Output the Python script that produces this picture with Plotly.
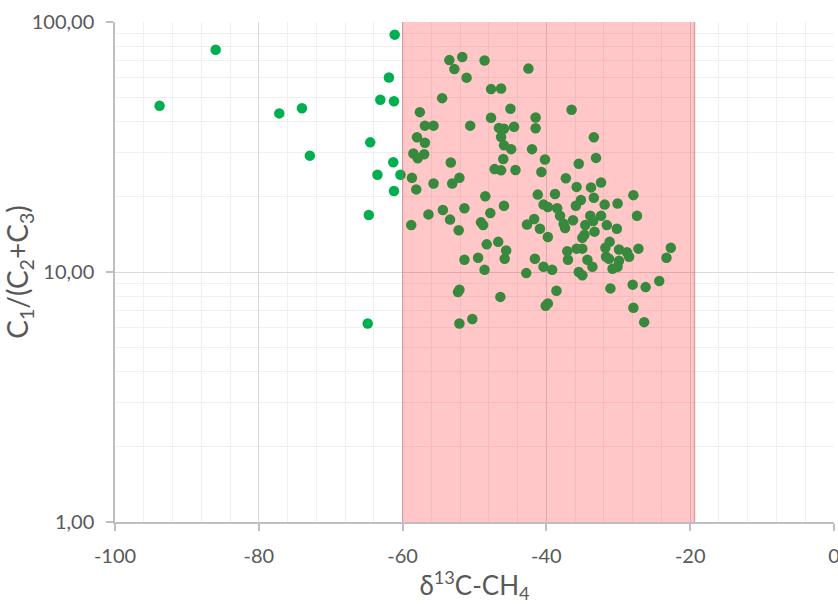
import plotly.graph_objects as go

# delta13C-CH4 (permil) and C1/(C2+C3) ratio
d13c = [
    -61.1, -86.0, -93.8, -77.15, -74.0, -61.9, -63.1, -61.2, -72.9, -64.5,
    -61.3, -63.5, -60.3, -61.2, -64.7, -64.85,
    -53.5, -51.7, -52.8, -48.6, -51.1, -42.5, -47.7, -46.3, -54.5, -57.6,
    -45.0, -47.7, -41.5, -56.9, -55.7, -50.6, -46.6, -45.9, -44.5, -41.5,
    -58.0, -46.3, -56.9, -45.9, -44.9, -42.0, -58.5, -57.0, -57.9, -53.3,
    -46.0, -40.2, -47.2, -46.3, -44.3, -40.7, -58.7, -52.1, -55.7, -53.1,
    -58.1,
    -48.5, -41.2, -38.8, -54.4, -51.4, -45.9, -40.4, -39.8, -38.5, -56.4,
    -47.8, -38.1, -58.8, -53.4, -49.1, -48.8, -52.2, -42.7, -41.7, -40.9,
    -39.8, -48.3, -46.7, -45.6, -45.8, -49.5, -51.4, -41.6, -40.4, -39.2,
    -48.6, -42.8, -38.6, -52.1, -52.3, -46.4, -39.8, -40.1, -50.3, -52.1,
    -36.5, -33.4, -33.1, -35.5, -37.3, -32.4, -35.8, -33.8, -27.9, -33.4,
    -35.2, -35.9, -31.9, -30.1, -33.9, -32.4, -27.4, -36.3, -33.5, -37.6,
    -37.4, -34.6, -31.6, -30.2, -33.3, -34.7, -35.0,
    -37.1, -37.0, -35.8, -35.0, -34.3, -33.6, -31.8, -31.2, -31.7, -31.3,
    -29.9, -28.8, -28.5, -29.9, -30.1, -30.8, -27.2, -35.5, -35.0, -22.7,
    -23.3, -24.3, -28.0, -26.2, -31.1, -27.9, -26.4,
]
c1_c2c3 = [
    89.0, 77.5, 46.2, 43.1, 45.2, 60.0, 48.9, 48.2, 29.2, 33.0,
    27.5, 24.5, 24.5, 21.1, 16.9, 6.22,
    70.4, 72.4, 64.8, 70.2, 59.9, 65.1, 53.9, 54.2, 49.6, 43.6,
    45.0, 41.4, 41.5, 38.5, 38.5, 38.5, 37.7, 37.4, 38.1, 37.6,
    34.6, 34.7, 32.9, 32.1, 31.0, 31.0, 29.8, 29.6, 28.5, 27.4,
    28.3, 28.2, 25.8, 25.5, 25.6, 25.1, 23.8, 23.8, 22.6, 22.6,
    21.4,
    20.1, 20.4, 20.5, 17.7, 18.0, 18.4, 18.6, 18.2, 18.0, 17.0,
    17.2, 16.8, 15.4, 16.2, 15.8, 15.4, 14.7, 15.5, 16.3, 14.9,
    13.8, 12.9, 13.2, 12.2, 11.3, 11.4, 11.2, 11.3, 10.5, 10.2,
    10.2, 9.9, 8.41, 8.49, 8.31, 7.95, 7.49, 7.32, 6.49, 6.22,
    44.6, 34.6, 28.6, 27.1, 23.7, 22.8, 21.9, 21.8, 20.3, 19.8,
    19.4, 18.4, 18.6, 18.8, 16.8, 16.8, 16.8, 16.1, 16.0, 15.6,
    15.0, 15.4, 15.4, 14.9, 14.5, 14.1, 13.7,
    12.1, 11.2, 12.4, 12.4, 11.2, 10.5, 12.5, 13.2, 11.5, 11.3,
    12.3, 12.0, 11.5, 11.1, 10.5, 10.3, 12.4, 10.0, 9.7, 12.5,
    11.4, 9.2, 8.9, 8.7, 8.6, 7.19, 6.30,
]

# shaded thermogenic window on the delta13C axis
region_x = [-60, -19.4]

x_ticks = [-100, -80, -60, -40, -20, 0]
x_tick_text = ["-100", "-80", "-60", "-40", "-20", "0"]
y_ticks = [1, 10, 100]
y_tick_text = ["1,00", "10,00", "100,00"]
y_minor = [m * d for d in (1, 10) for m in range(2, 10)]
x_minor = list(range(-100, 1, 4))

FONT = "Lato"
TXT = "#595959"
GRID = "#D9D9D9"
MINOR = "#F0F0F0"
AXIS = "#BFBFBF"

fig = go.Figure()
fig.add_trace(go.Scatter(
    x=d13c, y=c1_c2c3, mode="markers",
    marker=dict(size=10.5, color="#00B050", line=dict(width=0)),
    showlegend=False, hoverinfo="x+y",
))

fig.add_shape(type="rect", xref="x", yref="paper",
              x0=region_x[0], x1=region_x[1], y0=0, y1=1,
              fillcolor="rgba(255,0,0,0.22)", line=dict(width=0), layer="above")
fig.add_shape(type="line", xref="x", yref="paper",
              x0=region_x[1], x1=region_x[1], y0=0, y1=1,
              line=dict(color="rgba(190,110,110,0.55)", width=1.5), layer="above")
fig.add_shape(type="line", xref="x", yref="paper",
              x0=region_x[0], x1=region_x[0], y0=0, y1=1,
              line=dict(color="rgba(190,110,110,0.45)", width=1.2), layer="above")

fig.update_xaxes(
    range=[-100, 0], tickmode="array", tickvals=x_ticks, ticktext=x_tick_text,
    showgrid=True, gridcolor=GRID, gridwidth=1,
    minor=dict(tickmode="array", tickvals=x_minor, showgrid=True,
               gridcolor=MINOR, gridwidth=1, ticks=""),
    showline=True, linecolor=AXIS, linewidth=1.5,
    ticks="outside", ticklen=7, tickcolor=AXIS, tickwidth=1.5,
    tickfont=dict(family=FONT, size=20, color=TXT),
    ticklabelstandoff=8, ticklabeloverflow="allow",
    zeroline=False,
    title=dict(text="δ<sup>13</sup>C-CH<sub>4</sub>",
               font=dict(family=FONT, size=26, color=TXT), standoff=19),
)
fig.update_yaxes(
    type="log", range=[0, 2], tickmode="array", tickvals=y_ticks, ticktext=y_tick_text,
    showgrid=True, gridcolor=GRID, gridwidth=1,
    minor=dict(tickmode="array", tickvals=y_minor, showgrid=True,
               gridcolor=MINOR, gridwidth=1, ticks=""),
    showline=True, linecolor=AXIS, linewidth=1.5,
    ticks="outside", ticklen=7, tickcolor=AXIS, tickwidth=1.5,
    tickfont=dict(family=FONT, size=20, color=TXT),
    ticklabelstandoff=8, ticklabeloverflow="allow",
    zeroline=False,
    title=dict(text="C<sub>1</sub>/(C<sub>2</sub>+C<sub>3</sub>)",
               font=dict(family=FONT, size=28, color=TXT), standoff=3),
)

fig.update_layout(
    width=838, height=604,
    margin=dict(l=115, r=4, t=22, b=82, autoexpand=False),
    plot_bgcolor="white", paper_bgcolor="white",
    font=dict(family=FONT, color=TXT),
    separators=",.",
)

fig.write_html("out.html", include_plotlyjs=True, full_html=True,
               config={"displayModeBar": False})
